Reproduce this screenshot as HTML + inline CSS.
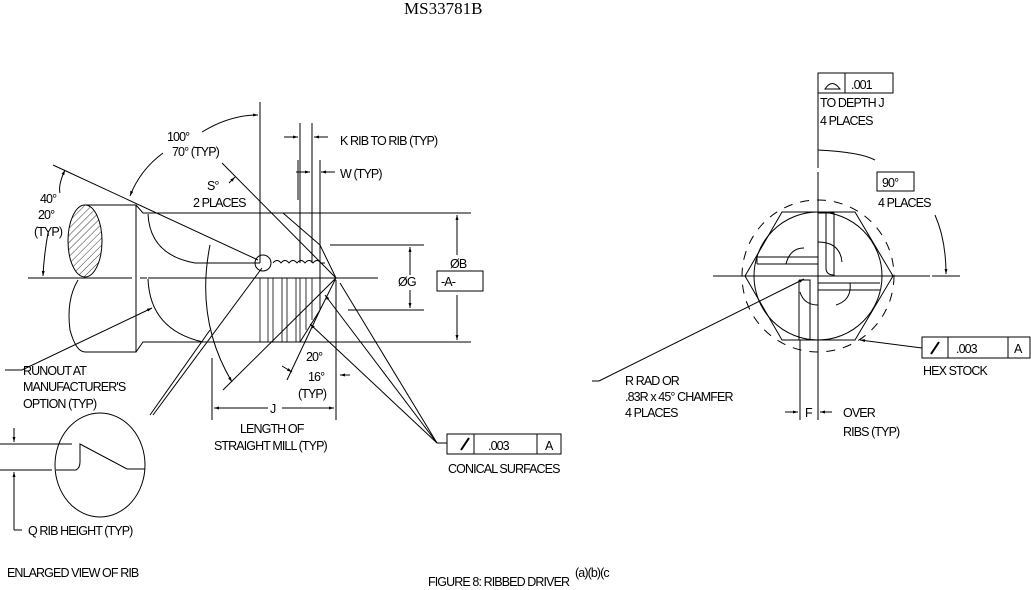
<!DOCTYPE html>
<html><head><meta charset="utf-8"><style>
html,body{margin:0;padding:0;background:#fff;}
svg{display:block;}
text{font-family:"Liberation Sans",sans-serif;font-size:12.5px;fill:#000;}
.c text{font-size:12.5px;letter-spacing:-0.9px;}
</style></head><body>
<svg width="1031" height="590" viewBox="0 0 1031 590" xmlns="http://www.w3.org/2000/svg">
<defs>
<pattern id="h" width="5" height="5" patternUnits="userSpaceOnUse" patternTransform="rotate(45)"><line x1="0" y1="0" x2="0" y2="5" stroke="#000" stroke-width="0.8"/></pattern>
<marker id="a" viewBox="0 0 10 10" refX="10" refY="5" markerWidth="7" markerHeight="5" orient="auto-start-reverse"><path d="M0,2 L10,5 L0,8z" fill="#000"/></marker>
</defs>
<text x="404" y="14" style="font-family:'Liberation Serif',serif;font-size:17px">MS33781B</text>
<g fill="none" stroke="#000" stroke-width="1">
<line x1="28" y1="278" x2="132" y2="278"/><line x1="140" y1="278" x2="147" y2="278"/><line x1="148" y1="278" x2="378" y2="278"/>
<ellipse cx="85" cy="241" rx="17" ry="36" fill="url(#h)"/>
<path d="M85,205 L136,205 L136,352 L85,352"/>
<path d="M78,280 Q66,300 70,330 Q76,352 85,352"/>
<path d="M136,205 L143,213 L471,213"/><path d="M136,352 L143,342 L471,342"/>
<path d="M148,214 Q150,255 195,263 L260,263"/>
<path d="M148,279 Q150,330 203,342"/>
<path d="M273,263 q4,-5 8,0 q4,-5 8,0 q4,-5 8,0 q4,-5 8,0 q4,-5 8,0 q4,-5 8,0 l4,0"/>
<circle cx="263" cy="263" r="8"/>
<path d="M283,213 L320,245 L336,278 L320,310 L300,342"/>
<line x1="320" y1="245" x2="320" y2="310"/>
<g stroke-width="0.8">
<line x1="260" y1="278" x2="260" y2="342"/><line x1="268" y1="278" x2="268" y2="342"/><line x1="273" y1="278" x2="273" y2="342"/><line x1="282" y1="278" x2="282" y2="342"/><line x1="287" y1="278" x2="287" y2="342"/><line x1="296" y1="278" x2="296" y2="342"/><line x1="300" y1="278" x2="300" y2="342"/><line x1="306" y1="278" x2="306" y2="330"/><line x1="312" y1="278" x2="312" y2="320"/>
</g>
<line x1="260" y1="102" x2="260" y2="263"/>
<line x1="300" y1="123" x2="300" y2="263"/><line x1="312" y1="123" x2="312" y2="263"/>
<line x1="298" y1="160" x2="298" y2="200"/><line x1="320" y1="160" x2="320" y2="245"/>
<line x1="284" y1="137" x2="298" y2="137" marker-end="url(#a)"/><line x1="328" y1="137" x2="314" y2="137" marker-end="url(#a)"/>
<line x1="296" y1="172" x2="310" y2="172" marker-end="url(#a)"/><line x1="335" y1="172" x2="321" y2="172" marker-end="url(#a)"/>
<line x1="53" y1="165" x2="258" y2="260"/>
<line x1="222" y1="163" x2="336" y2="278"/>
<path d="M202,132 Q230,115 258,115" marker-end="url(#a)"/>
<path d="M163,153 Q140,170 130,196" marker-end="url(#a)"/>
<path d="M65,170 Q58,185 60,193" marker-start="url(#a)"/>
<path d="M48,233 Q44,255 43,276" marker-end="url(#a)"/>
<path d="M210,245 Q195,320 232,382" marker-end="url(#a)"/>
<line x1="223" y1="390" x2="336" y2="278"/>
<path d="M229,183 l6,-6" marker-end="url(#a)"/>
<line x1="287" y1="380" x2="320" y2="310"/>
<path d="M282,366 l10,6" marker-end="url(#a)"/>
<path d="M350,375 l-10,0" marker-end="url(#a)"/>
<line x1="212" y1="358" x2="212" y2="420"/><line x1="336" y1="280" x2="336" y2="420"/>
<line x1="268" y1="408" x2="214" y2="408" marker-end="url(#a)"/><line x1="282" y1="408" x2="334" y2="408" marker-end="url(#a)"/>
<line x1="330" y1="245" x2="424" y2="245"/><line x1="348" y1="310" x2="424" y2="310"/>
<line x1="410" y1="275" x2="410" y2="247" marker-end="url(#a)"/><line x1="410" y1="290" x2="410" y2="308" marker-end="url(#a)"/>
<line x1="457" y1="255" x2="457" y2="215" marker-end="url(#a)"/><line x1="457" y1="295" x2="457" y2="340" marker-end="url(#a)"/>
<rect x="437" y="271" width="46" height="20"/>
<path d="M5,370 L22,370 L152,308" marker-end="url(#a)"/>
<line x1="150" y1="415" x2="210" y2="330"/>
<line x1="153" y1="415" x2="262" y2="268"/>
<line x1="437" y1="443" x2="325" y2="295" marker-end="url(#a)"/>
<line x1="437" y1="443" x2="310" y2="324" marker-end="url(#a)"/>
<line x1="437" y1="443" x2="340" y2="283"/>
<line x1="437" y1="443" x2="447" y2="443"/>
<rect x="447" y="434" width="114" height="20"/><line x1="474" y1="434" x2="474" y2="454"/><line x1="537" y1="434" x2="537" y2="454"/>
<ellipse cx="100" cy="465" rx="45" ry="52"/>
<line x1="0" y1="444" x2="72" y2="444"/><line x1="0" y1="470" x2="52" y2="470"/>
<path d="M56,470 L76,470 Q80,468 80,462 L80,444 L127,469 L145,469"/>
<line x1="14" y1="428" x2="14" y2="442" marker-end="url(#a)"/><line x1="14" y1="488" x2="14" y2="472" marker-end="url(#a)"/>
<line x1="14" y1="488" x2="14" y2="530"/><line x1="14" y1="530" x2="22" y2="530"/>
<line x1="818" y1="93" x2="818" y2="168"/><line x1="818" y1="172" x2="818" y2="420"/>
<line x1="713" y1="276" x2="930" y2="276"/><line x1="932" y1="276" x2="960" y2="276"/>
<circle cx="818" cy="276" r="64"/>
<circle cx="818" cy="276" r="76" stroke-dasharray="9,8"/>
<polygon points="745,276 782,212 855,212 893,276 855,340 782,340"/>
<path d="M818,150 Q860,152 875,160"/>
<path d="M935,215 Q946,240 946,274" marker-end="url(#a)"/>
<rect x="818" y="73" width="75" height="20"/><line x1="845" y1="73" x2="845" y2="93"/>
<path d="M825,89 Q832,78 840,89 Z"/>
<rect x="877" y="172" width="37" height="19"/>
<path d="M818,213 L834,213 L834,275 Q826,275 826,268 L826,213"/>
<path d="M757,257 L818,257 M757,264 L818,264 M757,257 L757,264"/>
<path d="M818,283 L880,283 M818,290 L880,290"/>
<path d="M799,280 L810,280 L810,340 M799,280 L799,340"/>
<path d="M818,242 Q840,242 842,262 M786,264 Q790,248 804,248 M850,283 Q852,300 836,305 M818,305 Q804,305 800,292"/>
<line x1="599" y1="381" x2="804" y2="279" marker-end="url(#a)"/><line x1="592" y1="381" x2="599" y2="381"/>
<line x1="922" y1="348" x2="860" y2="340" marker-end="url(#a)"/>
<rect x="922" y="337" width="108" height="21"/><line x1="948" y1="337" x2="948" y2="358"/><line x1="1008" y1="337" x2="1008" y2="358"/>
<line x1="800" y1="340" x2="800" y2="420"/>
<line x1="785" y1="412" x2="798" y2="412" marker-end="url(#a)"/><line x1="832" y1="412" x2="820" y2="412" marker-end="url(#a)"/>
<line x1="461" y1="450" x2="469" y2="438" stroke-width="2"/>
<line x1="931" y1="354" x2="939" y2="342" stroke-width="2"/>
</g>
<g class="c">
<text x="167" y="141">100°</text><text x="172" y="156">70°  (TYP)</text>
<text x="40" y="203">40°</text><text x="38" y="219">20°</text><text x="34" y="236">(TYP)</text>
<text x="207" y="190">S°</text><text x="193" y="207">2 PLACES</text>
<text x="340" y="145">K RIB TO RIB (TYP)</text>
<text x="340" y="178">W (TYP)</text>
<text x="450" y="268">ØB</text><text x="441" y="286">-A-</text>
<text x="398" y="286">ØG</text>
<text x="23" y="375">RUNOUT AT</text><text x="23" y="391">MANUFACTURER'S</text><text x="23" y="408">OPTION (TYP)</text>
<text x="306" y="361">20°</text><text x="308" y="381">16°</text><text x="298" y="398">(TYP)</text>
<text x="270" y="413">J</text>
<text x="240" y="433">LENGTH OF</text><text x="214" y="450">STRAIGHT MILL (TYP)</text>
<text x="488" y="450">.003</text><text x="545" y="450">A</text>
<text x="448" y="473">CONICAL SURFACES</text>
<text x="28" y="535">Q  RIB HEIGHT (TYP)</text>
<text x="7" y="577">ENLARGED VIEW OF RIB</text>
<text x="428" y="586">FIGURE 8:  RIBBED DRIVER</text><text x="575" y="577">(a)(b)(c</text>
<text x="851" y="89">.001</text>
<text x="820" y="107">TO DEPTH J</text><text x="820" y="125">4 PLACES</text>
<text x="882" y="187">90°</text><text x="878" y="207">4 PLACES</text>
<text x="956" y="353">.003</text><text x="1014" y="353">A</text>
<text x="923" y="375">HEX STOCK</text>
<text x="625" y="385">R RAD OR</text><text x="625" y="401">.83R x 45° CHAMFER</text><text x="625" y="417">4 PLACES</text>
<text x="805" y="417">F</text>
<text x="843" y="417">OVER</text><text x="843" y="436">RIBS (TYP)</text>
</g>
</svg>
</body></html>
